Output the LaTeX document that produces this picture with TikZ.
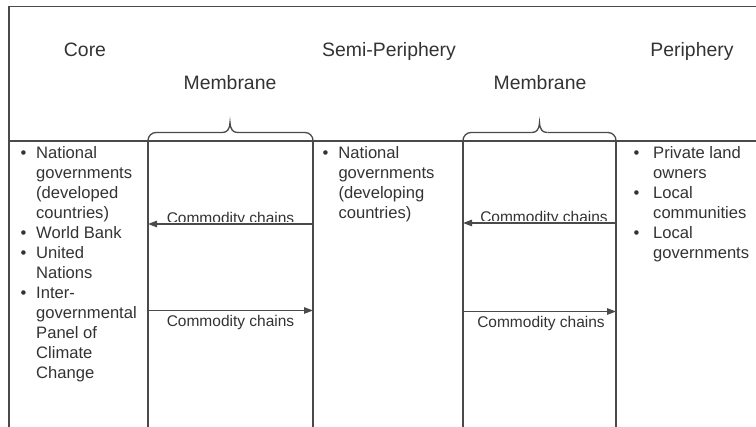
\documentclass[tikz,border=0pt]{standalone}
\usepackage{fontspec}
\setmainfont{Liberation Sans}
\usetikzlibrary{arrows.meta}
\definecolor{ln}{HTML}{4A4A4A}
\definecolor{tx}{HTML}{333333}
\newcommand\bulA{\makebox[15.6pt][l]{•}}
\newcommand\indA{\hspace*{15.6pt}}
\newcommand\bulC{\makebox[19.6pt][l]{•}}
\newcommand\indC{\hspace*{19.6pt}}
\begin{document}
\begin{tikzpicture}[x=1pt,y=-1pt,
  frame/.style={draw=ln,line width=1.4pt},
  memline/.style={draw=ln,line width=1.3pt},
  bracestyle/.style={draw=ln,line width=1.3pt},
  head/.style={font=\fontsize{19.4}{23}\selectfont,text=tx,inner sep=0pt,anchor=base},
  body/.style={font=\fontsize{16.6}{20}\selectfont,text=tx,inner sep=0pt,anchor=north west,align=left},
  chain/.style={font=\fontsize{15.5}{18}\selectfont,text=tx,inner sep=0pt,anchor=base},
  flow/.style={draw=ln,line width=1.2pt,-{Triangle[length=9pt,width=6.5pt]}},
]
\useasboundingbox (0,0) rectangle (756,427);

% frame
\coordinate (tl) at (9,6.5);
\coordinate (tr) at (757,6.5);
\coordinate (bl) at (9,428);
\coordinate (ml) at (9,141);
\coordinate (mr) at (757,141);
\draw[frame] (bl) -- (tl) -- (tr);
\draw[frame] (ml) -- (mr);

% membrane lines
\coordinate (m1a) at (148,141);
\coordinate (m1b) at (313,141);
\coordinate (m2a) at (463,141);
\coordinate (m2b) at (616,141);
\draw[memline] (m1a) -- (148,428);
\draw[memline] (m1b) -- (313,428);
\draw[memline] (m2a) -- (463,428);
\draw[memline] (m2b) -- (616,428);

% braces
\draw[bracestyle,rounded corners=8pt] (m1a) |- (222,132.5);
\draw[bracestyle] (222,132.5) .. controls (227,132.5) and (229.5,130) .. (230,122.5)
  .. controls (230.5,130) and (233,132.5) .. (238,132.5);
\draw[bracestyle,rounded corners=8pt] (238,132.5) -| (m1b);

\draw[bracestyle,rounded corners=8pt] (m2a) |- (531.5,132.5);
\draw[bracestyle] (531.5,132.5) .. controls (536.5,132.5) and (539,130) .. (539.5,122.5)
  .. controls (540,130) and (542.5,132.5) .. (547.5,132.5);
\draw[bracestyle,rounded corners=8pt] (547.5,132.5) -| (m2b);

% headers
\node[head] (core) at (85,57) {Core};
\node[head] (semi) at (389,57) {Semi-Periphery};
\node[head] (peri) at (692,57) {Periphery};
\node[head] (mem1) at (230,90) {Membrane};
\node[head] (mem2) at (540,90) {Membrane};

% bullet lists
\node[body] (corelist) at (20.4,146) {%
\bulA National\\
\indA governments\\
\indA (developed\\
\indA countries)\\
\bulA World Bank\\
\bulA United\\
\indA Nations\\
\bulA Inter-\\
\indA governmental\\
\indA Panel of\\
\indA Climate\\
\indA Change};

\node[body] (semilist) at (322.3,146) {%
\makebox[16pt][l]{•}National\\
\hspace*{16pt}governments\\
\hspace*{16pt}(developing\\
\hspace*{16pt}countries)};

\node[body] (perilist) at (633.4,146.5) {%
\bulC Private land\\
\indC owners\\
\bulC Local\\
\indC communities\\
\bulC Local\\
\indC governments};

% commodity chains
\coordinate (a1r) at (313,224);
\coordinate (a1l) at (148,224);
\coordinate (b1l) at (148,310.5);
\coordinate (b1r) at (313,310.5);
\coordinate (a2r) at (616,223);
\coordinate (a2l) at (463,223);
\coordinate (b2l) at (463,311.5);
\coordinate (b2r) at (616,311.5);

\begin{scope}
\clip (150,195) rectangle (311,221.8);
\node[chain] (c1) at (230.5,223.3) {Commodity chains};
\end{scope}
\begin{scope}
\clip (465,195) rectangle (614,220.8);
\node[chain] (c2) at (544,222.3) {Commodity chains};
\end{scope}
\node[chain] (c3) at (230.5,326.3) {Commodity chains};
\node[chain] (c4) at (541,327.3) {Commodity chains};

\draw[flow] (a1r) -- (a1l);
\draw[flow] (b1l) -- (b1r);
\draw[flow] (a2r) -- (a2l);
\draw[flow] (b2l) -- (b2r);
\end{tikzpicture}
\end{document}
